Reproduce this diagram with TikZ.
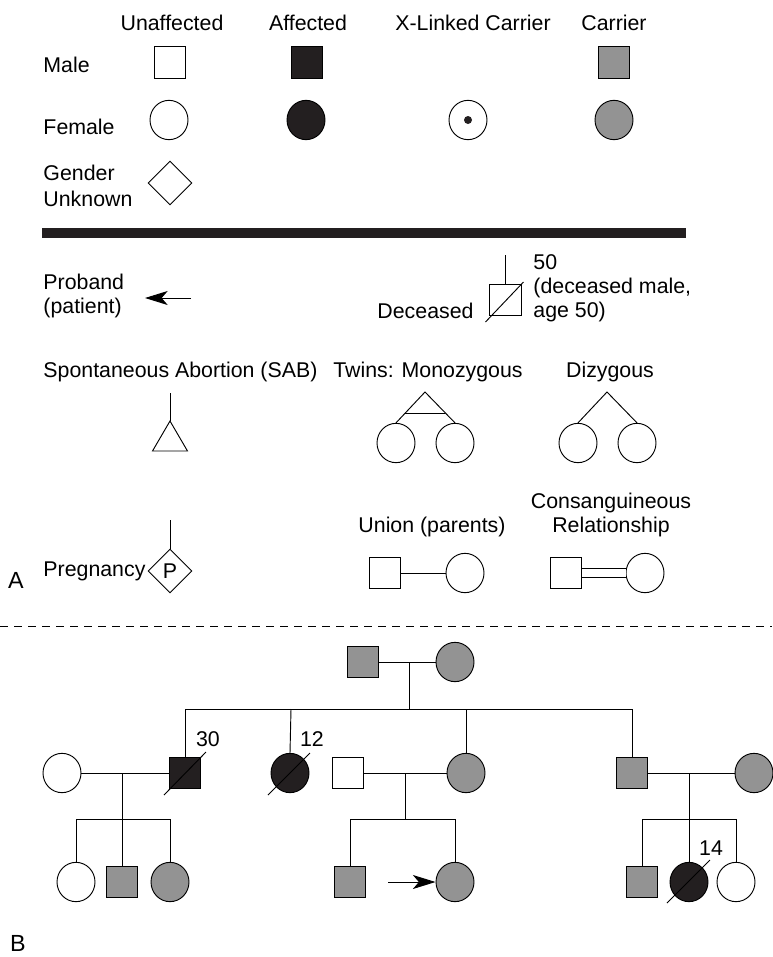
\documentclass[tikz,border=0pt]{standalone}
\usepackage{fontspec}
\setmainfont{Liberation Sans}
\usetikzlibrary{shapes.geometric,arrows.meta,calc}
\definecolor{carriergray}{HTML}{939393}
\definecolor{affblack}{HTML}{231F20}
\begin{document}
\begin{tikzpicture}[x=0.75pt,y=-0.75pt,line width=0.7pt,
  every node/.style={font=\fontsize{16}{18}\selectfont,inner sep=0pt},
  panel/.style={font=\fontsize{17.5}{19}\selectfont},
  sym/.style={draw=black,line width=0.7pt,inner sep=0pt},
  male/.style={sym,rectangle,minimum size=23.5pt},
  female/.style={sym,ellipse,minimum width=28.5pt,minimum height=29.5pt},
  unknown/.style={sym,diamond,minimum width=33pt,minimum height=33pt},
  carrier/.style={fill=carriergray},
  affected/.style={fill=affblack},
  proband/.style={-{Stealth[length=17pt,width=10.5pt,inset=4.5pt]}},
  dslash/.style={line width=0.7pt}]
\useasboundingbox (0,0) rectangle (772,957);

% ---------- legend: basic symbols ----------
\node (hU) at (172,23) {Unaffected};
\node (hA) at (308,23) {Affected};
\node (hX) at (473,23) {X-Linked Carrier};
\node (hC) at (614,23) {Carrier};

\node[anchor=west] (lmale) at (43,65) {Male};
\node[anchor=west] (lfem) at (43,127) {Female};
\node[anchor=west,align=left] (lgen) at (43,186) {Gender\\[1pt]Unknown};

\node[male] (mU) at (170,62.5) {};
\node[male,affected] (mA) at (307,62.5) {};
\node[male,carrier] (mC) at (614,62.5) {};

\node[female] (fU) at (169,120) {};
\node[female,affected] (fA) at (306,120) {};
\node[female] (fX) at (468,120) {};
\node[circle,fill=affblack,minimum size=6pt,inner sep=0pt] (fXdot) at (fX.center) {};
\node[female,carrier] (fC) at (614,120) {};

\node[unknown] (gU) at (170,183) {};

% separating bar
\fill[affblack] (42,228) rectangle (686,238);

% ---------- legend: proband and deceased ----------
\node[anchor=west,align=left] (lprob) at (43,296) {Proband\\(patient)};
\coordinate (pbA) at (191,298);
\coordinate (pbB) at (145,298);
\draw[proband] (pbA) -- (pbB);

\node[male] (dec) at (505.5,300) {};
\coordinate (decTop) at (505.5,255);
\draw (decTop) -- (dec.north);
\draw[dslash] ($(dec.center)+(-20,22)$) -- ($(dec.center)+(18,-18)$);
\node[anchor=east] (ldec) at (474,311) {Deceased};
\node[anchor=west,align=left] (ldec50) at (533,288) {50\\(deceased male,\\age 50)};

% ---------- legend: abortion and twins ----------
\node[anchor=west] (lsab) at (43,372) {Spontaneous Abortion (SAB)};
\coordinate (sabTop) at (170,393);
\coordinate (sabApex) at (170,421);
\draw (sabTop) -- (sabApex);
\draw (sabApex) -- (187.5,451) -- (152.5,451) -- cycle;

\node (ltw) at (428,372) {Twins: Monozygous};
\node[female] (tw1) at (396,443) {};
\node[female] (tw2) at (455,443) {};
\coordinate (twApex) at (425,392);
\draw (tw1.north) -- (twApex) -- (tw2.north);
\draw ($(twApex)!0.68!(tw1.north)$) -- ($(twApex)!0.68!(tw2.north)$);

\node (ldz) at (610,372) {Dizygous};
\node[female] (dz1) at (578,443) {};
\node[female] (dz2) at (637,443) {};
\coordinate (dzApex) at (607,392);
\draw (dz1.north) -- (dzApex) -- (dz2.north);

% ---------- legend: pregnancy and unions ----------
\node[panel] (lA) at (16,580) {A};
\node[anchor=west] (lpreg) at (43,571) {Pregnancy};
\node[unknown] (preg) at (170,571) {P};
\coordinate (pregTop) at (170,520);
\draw (pregTop) -- (preg.north);

\node (luni) at (432,527) {Union (parents)};
\node[male] (uM) at (385,573) {};
\node[female] (uF) at (465,573) {};
\draw (uM) -- (uF);

\node[align=center] (lcons) at (611,515) {Consanguineous\\Relationship};
\node[male] (cM) at (566,573) {};
\node[female] (cF) at (645,573) {};
\draw[double,double distance=6pt] (cM) -- (cF);

% dashed divider
\draw[dash pattern=on 6pt off 4.5pt] (0,626) -- (772,626);

% ---------- pedigree ----------
% generation I
\node[male,carrier] (g1m) at (363,662) {};
\node[female,carrier] (g1f) at (455,662) {};
\draw (g1m) -- (g1f);
\coordinate (g1mid) at (409,662);
\coordinate (g1sib) at (409,709);
\draw (g1mid) -- (g1sib);
\coordinate (s1a) at (185,709);
\coordinate (s1b) at (291,709);
\coordinate (s1c) at (466,709);
\coordinate (s1d) at (632,709);
\draw (s1a) -- (s1d);

% generation II
\node[female] (w1) at (62,773) {};
\node[male,affected] (a30) at (185,773) {};
\node[female,affected] (f12) at (290,773) {};
\node[male] (h2) at (348,773) {};
\node[female,carrier] (fc2) at (466,773) {};
\node[male,carrier] (mc2) at (632,773) {};
\node[female,carrier] (w3) at (754,773) {};

\draw (s1a) -- (a30.north);
\draw (s1b) -- (f12.north);
\draw (s1c) -- (fc2.north);
\draw (s1d) -- (mc2.north);

\draw[dslash] ($(a30.center)+(-21,22)$) -- ($(a30.center)+(21,-21)$);
\draw[dslash] ($(f12.center)+(-22,22)$) -- ($(f12.center)+(20,-20)$);
\node (age30) at (208,739) {30};
\node (age12) at (312,739) {12};

\draw (w1) -- (a30);
\draw (h2) -- (fc2);
\draw (mc2) -- (w3);

% generation III, family 1
\coordinate (c1top) at (122,773);
\coordinate (c1sib) at (122,819);
\draw (c1top) -- (c1sib);
\node[female] (k11) at (76,882) {};
\node[male,carrier] (k12) at (122,882) {};
\node[female,carrier] (k13) at (170,882) {};
\coordinate (s2a) at (76,819);
\coordinate (s2c) at (170,819);
\draw (s2a) -- (s2c);
\draw (s2a) -- (k11.north);
\draw (c1sib) -- (k12.north);
\draw (s2c) -- (k13.north);

% generation III, family 2
\coordinate (c2top) at (405,773);
\coordinate (c2sib) at (405,819);
\draw (c2top) -- (c2sib);
\node[male,carrier] (k21) at (350,882) {};
\node[female,carrier] (k22) at (455,882) {};
\coordinate (s3a) at (350,819);
\coordinate (s3b) at (455,819);
\draw (s3a) -- (s3b);
\draw (s3a) -- (k21.north);
\draw (s3b) -- (k22.north);
\coordinate (prA) at (388,882);
\draw[proband] (prA) -- (k22.west);

% generation III, family 3
\coordinate (c3top) at (689,773);
\coordinate (c3sib) at (689,819);
\draw (c3top) -- (c3sib);
\node[male,carrier] (k31) at (642,882) {};
\node[female,affected] (k32) at (689,882) {};
\node[female] (k33) at (736,882) {};
\coordinate (s4a) at (642,819);
\coordinate (s4c) at (736,819);
\draw (s4a) -- (s4c);
\draw (s4a) -- (k31.north);
\draw (c3sib) -- (k32.north);
\draw (s4c) -- (k33.north);
\draw[dslash] ($(k32.center)+(-22,21)$) -- ($(k32.center)+(21,-22)$);
\node (age14) at (711,848) {14};

\node[panel] (lB) at (18,943) {B};
\end{tikzpicture}
\end{document}
